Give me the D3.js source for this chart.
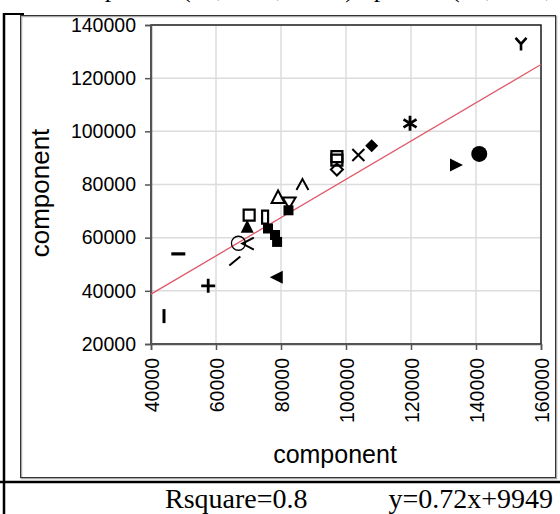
<!DOCTYPE html>
<html lang="en">
<head>
<meta charset="UTF-8">
<title>component vs component</title>
<script src="https://d3js.org/d3.v7.min.js"></script>
<style>
  body { margin: 0; background: #fff; }
  .tick text { font-family: "Liberation Sans", Arial, sans-serif; font-size: 19.5px; fill: #000; }
  .lbl { font-family: "Liberation Sans", Arial, sans-serif; font-size: 25px; fill: #000; }
  .serif { font-family: "Liberation Serif", "Times New Roman", serif; font-size: 28px; fill: #000; }
  .top { font-family: "Liberation Serif", "Times New Roman", serif; font-size: 26px; fill: #000; }
</style>
</head>
<body>
<svg width="560" height="514"></svg>
<script>
// data
const xVals = [44000, 48400, 57600, 65800, 66900, 69800, 69600, 70200, 75100, 76000, 78150, 78800,
               78700, 79100, 82500, 82300, 86600, 97200, 97200, 97200, 103800, 107900, 119700,
               133850, 141000, 153850];
const yVals = [30500, 53900, 41900, 51200, 57900, 57800, 64100, 68500, 67700, 63450, 61000, 58400,
               45100, 75300, 73200, 70300, 79800, 90500, 89200, 85650, 91100, 94600, 103000,
               87340, 91500, 132860];
const markers = ["bar", "dash", "plus", "slash", "circle", "lt", "triUp", "sq", "rectV", "sqFill", "sqFill", "sqFill",
                 "triLeft", "triUpOpen", "triDownOpen", "sqFill", "caret", "sq", "sq", "diamond", "cross", "diamondFill", "star",
                 "triRight", "circleFill", "Y"];
const xTicks = [40000, 60000, 80000, 100000, 120000, 140000, 160000];
const yTicks = [20000, 40000, 60000, 80000, 100000, 120000, 140000];
const slope = 0.72, intercept = 9949, rsq = 0.8;

const svg = d3.select("svg");

// outer frame (title sits mostly above the top edge, as in the original)
svg.append("text").attr("class", "top").attr("x", 60).attr("y", -3).text("component (Fe, total, mean)");
svg.append("text").attr("class", "top").attr("x", 329).attr("y", -3).text("component (Fe, total, mean)");
svg.append("line").attr("x1", 4).attr("x2", 4).attr("y1", 13).attr("y2", 514).attr("stroke", "#000").attr("stroke-width", 2.5);
svg.append("line").attr("x1", 3).attr("x2", 24).attr("y1", 14).attr("y2", 14).attr("stroke", "#000").attr("stroke-width", 2);
svg.append("rect").attr("x", 21.5).attr("y", 16.5).attr("width", 535).attr("height", 462).attr("fill", "none").attr("stroke", "#aaa").attr("stroke-width", 1.5);
svg.append("rect").attr("x", 20.5).attr("y", 15.5).attr("width", 535).attr("height", 462).attr("fill", "none").attr("stroke", "#333").attr("stroke-width", 1);
svg.append("line").attr("x1", 0).attr("x2", 560).attr("y1", 482).attr("y2", 482).attr("stroke", "#000").attr("stroke-width", 2.5);

const x = d3.scaleLinear().domain([40000, 160000]).range([151, 541]);
const y = d3.scaleLinear().domain([20000, 140000]).range([344, 25]);

// grid
svg.append("g").selectAll("line").data(xTicks).join("line")
  .attr("x1", d => x(d)).attr("x2", d => x(d)).attr("y1", y.range()[0]).attr("y2", y.range()[1])
  .attr("stroke", "#dcdcdc").attr("stroke-width", 1.5);
svg.append("g").selectAll("line").data(yTicks).join("line")
  .attr("y1", d => y(d)).attr("y2", d => y(d)).attr("x1", x.range()[0]).attr("x2", x.range()[1])
  .attr("stroke", "#dcdcdc").attr("stroke-width", 1.5);

svg.append("rect").attr("x", 151).attr("y", 25).attr("width", 390).attr("height", 319)
  .attr("fill", "none").attr("stroke", "#222").attr("stroke-width", 1.5);

const yAxis = svg.append("g").attr("transform", "translate(151,0)")
  .call(d3.axisLeft(y).tickValues(yTicks).tickFormat(d3.format("d")).tickSize(6).tickPadding(9));
const xAxis = svg.append("g").attr("transform", "translate(0,344)")
  .call(d3.axisBottom(x).tickValues(xTicks).tickFormat(d3.format("d")).tickSize(6));
[yAxis, xAxis].forEach(a => {
  a.select(".domain").attr("stroke", "#555").attr("stroke-width", 1.5);
  a.selectAll(".tick line").attr("stroke", "#555").attr("stroke-width", 1.5);
});
xAxis.selectAll(".tick text")
  .attr("transform", "rotate(-90)").attr("text-anchor", "end")
  .attr("x", -14).attr("y", 0).attr("dy", "0.36em");

// regression line
svg.append("line")
  .attr("x1", x(40000)).attr("y1", y(slope * 40000 + intercept))
  .attr("x2", x(160000)).attr("y2", y(slope * 160000 + intercept))
  .attr("stroke", "#e05868").attr("stroke-width", 1.3);

// markers
function shape(name) {
  switch (name) {
    case "bar": return { d: "M-1.5,-7H1.5V7H-1.5Z", fill: "#000" };
    case "dash": return { d: "M-7,-1.6H7V1.6H-7Z", fill: "#000" };
    case "plus": return { d: "M-7,0H7M0,-7V7", stroke: 2.8 };
    case "slash": return { d: "M-5.5,4.5L5.5,-4.5", stroke: 2 };
    case "circle": return { d: "M7,0A7,7 0 1,1 -7,0A7,7 0 1,1 7,0", stroke: 1.3 };
    case "lt": return { d: "M6,-6L-5.5,0L6,6", stroke: 2 };
    case "caret": return { d: "M-6,5L0,-6L6,5", stroke: 2 };
    case "triUp": return { d: "M0,-7L6.5,6H-6.5Z", fill: "#000" };
    case "triLeft": return { d: "M-7,0L6,-6.5V6.5Z", fill: "#000" };
    case "triRight": return { d: "M7,0L-6,-6.5V6.5Z", fill: "#000" };
    case "triUpOpen": return { d: "M0,-6.5L6.5,6H-6.5Z", stroke: 2 };
    case "triDownOpen": return { d: "M0,6L6.5,-5H-6.5Z", stroke: 2 };
    case "sq": return { d: "M-5.5,-5.5H5.5V5.5H-5.5Z", stroke: 2.2 };
    case "rectV": return { d: "M-3,-6.5H3V6.5H-3Z", stroke: 2.2 };
    case "sqFill": return { d: "M-5,-5H5V5H-5Z", fill: "#000" };
    case "diamond": return { d: "M0,-6L6,0L0,6L-6,0Z", stroke: 2 };
    case "diamondFill": return { d: "M0,-6.5L6.5,0L0,6.5L-6.5,0Z", fill: "#000" };
    case "cross": return { d: "M-6,-6L6,6M6,-6L-6,6", stroke: 2 };
    case "star": return { d: "M0,-7.5V7.5M-6.5,-4L6.5,4M6.5,-4L-6.5,4", stroke: 2.8 };
    case "circleFill": return { d: "M8,0A8,8 0 1,1 -8,0A8,8 0 1,1 8,0", fill: "#000" };
    case "Y": return { d: "M-5.5,-6L0,0L5.5,-6M0,0V6.5", stroke: 2.6 };
  }
}
svg.append("g").selectAll("path").data(d3.range(xVals.length)).join("path")
  .attr("transform", i => `translate(${x(xVals[i])},${y(yVals[i])})`)
  .attr("d", i => shape(markers[i]).d)
  .attr("fill", i => shape(markers[i]).fill || "none")
  .attr("stroke", i => shape(markers[i]).stroke ? "#000" : "none")
  .attr("stroke-width", i => shape(markers[i]).stroke || 0);

// axis titles
svg.append("text").attr("class", "lbl").attr("text-anchor", "middle").style("font-size", "26px")
  .attr("transform", "translate(49,193) rotate(-90)").text("component");
svg.append("text").attr("class", "lbl").attr("text-anchor", "middle")
  .attr("x", 335).attr("y", 463).text("component");

// fit summary
svg.append("text").attr("class", "serif").attr("x", 165).attr("y", 508).text("Rsquare=" + rsq);
svg.append("text").attr("class", "serif").attr("x", 553).attr("y", 508).attr("text-anchor", "end")
  .text("y=" + slope + "x+" + intercept);
</script>
</body>
</html>
